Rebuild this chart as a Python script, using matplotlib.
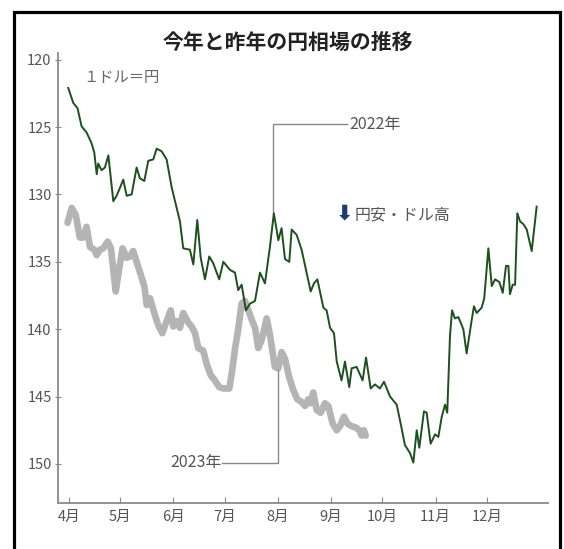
import numpy as np
import matplotlib
matplotlib.use("Agg")
import matplotlib.pyplot as plt
from matplotlib.patches import Rectangle

plt.rcParams['font.family'] = ['Noto Sans CJK JP', 'DejaVu Sans']

# days counted from April 1
month_days = [0, 30, 61, 91, 122, 153, 183, 214, 244]
month_labels = ['4月', '5月', '6月', '7月', '8月', '9月', '10月', '11月', '12月']
yticks = [120, 125, 130, 135, 140, 145, 150]

# 2022 (yen per dollar)
days22 = [-0.4, 2.5, 5, 7.4, 10.3, 13.2, 14.8, 16.2, 17.1, 19, 21, 23, 25.9, 27.8,
          29.8, 31.7, 33.7, 36.6, 39.5, 41.4, 44, 46.3, 49.2, 51.2, 54.1, 57, 60,
          64.8, 66.7, 70.6, 72.6, 74.9, 76.9, 79.4, 81.9, 84.2, 87.7, 90.1, 94,
          96.9, 98.8, 100.8, 103.3, 105.7, 108.6, 111.5, 114.4, 117.3, 119.6, 122.2,
          124.1, 126.1, 128.6, 130, 132.9, 135.8, 138.7, 141.1, 143, 145, 146.5,
          148.5, 150.4, 152.4, 154.7, 156.3, 159.1, 161.1, 163.6, 165, 167.9, 171.4,
          173.4, 176.1, 178.6, 181.5, 183.9, 187.4, 191.3, 193.6, 196.1, 199.1, 201,
          203, 204.5, 207.2, 208.8, 211.1, 213.7, 215.6, 217.6, 219.5, 220.8, 222.4,
          223.6, 225.3, 227.3, 230.2, 232.1, 235.1, 236.4, 238, 240.9, 242.4, 244.8,
          246.8, 248.7, 251.2, 253.2, 255.1, 256.5, 257.4, 259, 260.4, 261.7, 263.3,
          265.2, 267.2, 270.1, 273]
vals22 = [122.1, 123.2, 123.6, 124.95, 125.4, 126.2, 126.9, 128.5, 127.7, 128.2, 128.0,
          127.1, 130.5, 130.1, 129.5, 128.9, 130.1, 130.0, 128.0, 128.8, 129.0, 127.5,
          127.4, 126.6, 126.8, 127.4, 129.5, 132.0, 134.0, 134.1, 135.2, 131.9, 134.7,
          136.3, 134.6, 135.1, 136.3, 135.0, 135.6, 135.8, 137.1, 136.7, 138.6, 138.1,
          137.9, 135.8, 136.6, 133.9, 131.4, 133.4, 132.5, 134.8, 135.0, 132.6, 133.0,
          134.1, 135.8, 137.2, 136.6, 136.3, 137.2, 138.4, 138.6, 139.9, 140.3, 142.4,
          143.8, 142.4, 144.3, 142.9, 142.8, 143.8, 142.1, 144.4, 144.1, 144.4, 143.9,
          145.0, 145.6, 147.0, 148.6, 149.2, 149.9, 147.5, 148.8, 146.1, 146.2, 148.5,
          147.8, 148.0, 146.5, 145.6, 146.2, 140.5, 138.6, 139.2, 139.1, 140.0, 141.8,
          139.3, 138.3, 138.8, 138.4, 137.7, 134.0, 136.8, 136.3, 136.5, 137.3, 135.3,
          135.3, 137.4, 136.7, 136.7, 131.4, 132.0, 132.2, 132.6, 134.2, 130.9]

# 2023 (yen per dollar)
days23 = [-0.8, 1.6, 3.9, 6.4, 8.3, 10.3, 12.3, 14.8, 16.2, 18.1, 20, 22.6, 24.5, 27.3,
          29.2, 31.3, 33.7, 35.6, 37.5, 39.5, 42, 44, 45.4, 47.3, 49.8, 52.1, 54.5, 57,
          59.4, 60.9, 62.9, 64.8, 66.7, 69.6, 71.6, 73.6, 75.5, 78.4, 80.4, 82.7, 85.2,
          87.7, 90.1, 93.6, 95, 96.9, 98.8, 100.8, 102.7, 104.7, 106.7, 108.6, 110.5,
          112.5, 115.4, 117.3, 120.2, 122.2, 124.1, 126.1, 128.4, 130.9, 133.3, 135.8,
          137.8, 139.7, 141.1, 142.6, 144.6, 146.9, 149.4, 151.4, 153.9, 156.3, 158.2,
          160.5, 162.5, 165, 167.5, 169.5, 170.8, 172.2, 173.2]
vals23 = [132.1, 131.0, 131.5, 133.2, 133.2, 132.4, 133.9, 134.1, 134.5, 134.1, 134.0,
          133.5, 134.0, 137.2, 135.6, 134.0, 134.7, 134.6, 134.2, 135.0, 136.0, 136.8,
          138.2, 137.7, 138.8, 139.7, 140.3, 139.4, 138.6, 139.8, 139.4, 139.9, 138.8,
          139.5, 139.8, 140.3, 141.4, 141.6, 142.6, 143.4, 143.8, 144.3, 144.4, 144.4,
          143.3, 141.5, 140.0, 138.1, 137.9, 138.6, 139.3, 139.9, 141.4, 140.8, 139.2,
          140.4, 142.8, 142.9, 141.7, 142.2, 143.5, 144.5, 145.2, 145.4, 145.7, 145.2,
          145.5, 144.7, 146.0, 146.2, 145.5, 145.7, 147.0, 147.5, 147.2, 146.5, 147.0,
          147.2, 147.3, 147.5, 147.9, 147.5, 147.9]

fig = plt.figure(figsize=(5.64, 5.49), dpi=100)
ax = fig.add_axes([0.1028, 0.0838, 0.8688, 0.8197])

ax.plot(days23, vals23, color='#b4b4b4', lw=4.8, solid_joinstyle='round',
        solid_capstyle='round', zorder=2)
ax.plot(days22, vals22, color='#1c501c', lw=1.4, zorder=3)

ax.set_xlim(-6.4, 279.6)
ax.set_ylim(152.9, 119.5)

for side in ['top', 'right']:
    ax.spines[side].set_visible(False)
for side in ['left', 'bottom']:
    ax.spines[side].set_color('#8a8a8a')
    ax.spines[side].set_linewidth(1.3)

ax.set_xticks(month_days)
ax.set_xticklabels(month_labels)
ax.set_yticks(yticks)
ax.tick_params(axis='x', direction='in', length=4, color='#8a8a8a',
               labelsize=10.5, labelcolor='#555555', pad=5)
ax.tick_params(axis='y', direction='inout', length=5, color='#8a8a8a',
               labelsize=10.5, labelcolor='#555555', pad=2)

# leader lines for the year labels
gray = '#888888'
ax.plot([119.3, 119.3, 162.5], [131.4, 124.8, 124.8], color=gray, lw=1)
ax.plot([89.5, 121.8, 121.8], [149.9, 149.9, 143.0], color=gray, lw=1)
ax.text(163.5, 124.8, '2022年', ha='left', va='center', fontsize=11.5, color='#555555')
ax.text(89, 149.9, '2023年', ha='right', va='center', fontsize=11.5, color='#555555')

ax.text(8.2, 121.3, '１ドル＝円', ha='left', va='center', fontsize=11, color='#666666')
ax.text(156, 131.4, '⬇', ha='left', va='center', fontsize=15, color='#1f3b73',
        family=['DejaVu Sans'], fontweight='bold')
ax.text(167, 131.5, '円安・ドル高', ha='left', va='center', fontsize=11.5,
        color='#555555')

fig.text(288 / 564, 1 - 42 / 549, '今年と昨年の円相場の推移', ha='center', va='center',
         fontsize=15, fontweight='bold', color='#222222')

# outer frame
fig.patches.append(Rectangle((14 / 564, -0.05), 546 / 564, 1 - 12 / 549 + 0.05,
                             transform=fig.transFigure, fill=False,
                             edgecolor='black', lw=2.3))

fig.savefig('out.png', dpi=100)
